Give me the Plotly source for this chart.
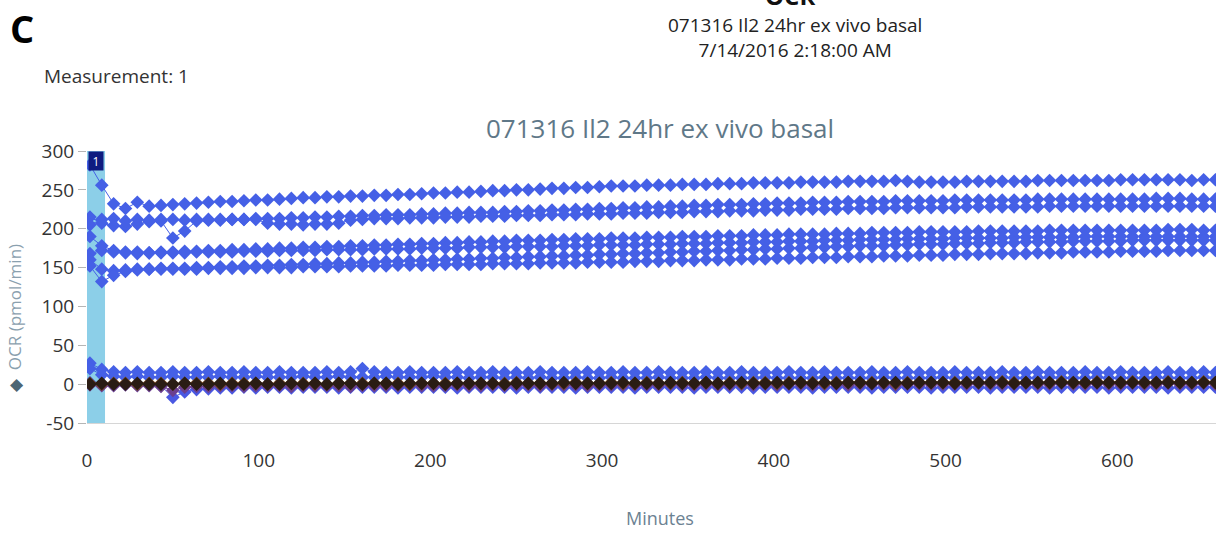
import plotly.graph_objects as go

# ---------------- data ----------------
minutes = [1.7, 8.6, 15.5, 22.4, 29.3, 36.2, 43.1, 50.0, 56.9, 63.8, 70.7, 77.6,
           84.5, 91.4, 98.3, 105.2, 112.1, 119.0, 125.9, 132.8, 139.7, 146.6, 153.5, 160.4,
           167.3, 174.2, 181.1, 188.0, 194.9, 201.8, 208.7, 215.6, 222.5, 229.4, 236.3, 243.2,
           250.1, 257.0, 263.9, 270.8, 277.7, 284.6, 291.5, 298.4, 305.3, 312.2, 319.1, 326.0,
           332.9, 339.8, 346.7, 353.6, 360.5, 367.4, 374.3, 381.2, 388.1, 395.0, 401.9, 408.8,
           415.7, 422.6, 429.5, 436.4, 443.3, 450.2, 457.1, 464.0, 470.9, 477.8, 484.7, 491.6,
           498.5, 505.4, 512.3, 519.2, 526.1, 533.0, 539.9, 546.8, 553.7, 560.6, 567.5, 574.4,
           581.3, 588.2, 595.1, 602.0, 608.9, 615.8, 622.7, 629.6, 636.5, 643.4, 650.3, 657.2]

well_1 = [282, 256, 232, 226, 234, 229, 230, 231, 232, 233, 234, 235,
          235, 236, 237, 237, 238, 239, 240, 240, 241, 241, 242, 242,
          243, 243, 244, 244, 245, 246, 246, 247, 247, 248, 249, 249,
          250, 250, 251, 252, 252, 253, 253, 254, 255, 255, 255, 256,
          256, 256, 257, 257, 257, 258, 258, 258, 259, 259, 259, 259,
          260, 260, 260, 260, 261, 261, 261, 261, 262, 261, 260, 260,
          260, 260, 261, 261, 261, 261, 261, 261, 262, 262, 262, 262,
          262, 262, 262, 263, 263, 263, 263, 263, 263, 262, 263, 263]

well_2 = [215, 207, 204, 203, 206, 209, 210, 188, 197, 210, 211, 211,
          212, 212, 213, 213, 213, 214, 214, 215, 215, 216, 216, 217,
          217, 218, 218, 218, 219, 219, 220, 220, 221, 221, 221, 222,
          222, 223, 223, 224, 224, 225, 225, 226, 226, 227, 227, 228,
          228, 229, 229, 230, 230, 231, 231, 231, 232, 232, 233, 233,
          233, 234, 234, 234, 235, 235, 235, 235, 236, 236, 236, 236,
          236, 237, 237, 237, 237, 237, 237, 237, 238, 238, 238, 238,
          238, 238, 238, 238, 238, 238, 239, 239, 239, 238, 238, 238]

well_3 = [205, 212, 213, 210, 212, 211, 212, 212, 211, 212, 212, 212,
          212, 212, 212, 207, 206, 206, 205, 206, 206, 207, 211, 212,
          213, 213, 213, 214, 214, 214, 215, 215, 215, 216, 216, 216,
          217, 217, 217, 218, 218, 218, 219, 219, 219, 220, 220, 220,
          221, 221, 221, 222, 222, 222, 223, 223, 223, 224, 224, 224,
          225, 225, 225, 225, 226, 226, 226, 226, 227, 227, 227, 227,
          227, 227, 228, 228, 228, 228, 228, 228, 228, 229, 229, 229,
          229, 229, 229, 229, 229, 229, 229, 229, 229, 229, 229, 229]

well_4 = [190, 178, 172, 170, 170, 169, 170, 170, 171, 171, 172, 172,
          173, 173, 174, 174, 175, 175, 176, 176, 177, 177, 178, 178,
          179, 179, 180, 180, 181, 181, 182, 182, 183, 183, 184, 184,
          185, 185, 185, 186, 186, 187, 187, 187, 188, 188, 188, 189,
          189, 189, 190, 190, 190, 191, 191, 191, 192, 192, 192, 193,
          193, 193, 193, 194, 194, 194, 195, 195, 195, 195, 196, 196,
          196, 196, 196, 197, 197, 197, 197, 197, 197, 198, 198, 198,
          198, 198, 198, 198, 198, 198, 198, 199, 199, 199, 198, 198]

well_5 = [168, 172, 170, 169, 168, 169, 169, 169, 169, 170, 170, 170,
          170, 171, 171, 171, 172, 172, 172, 172, 173, 173, 173, 173,
          174, 174, 174, 174, 175, 175, 175, 175, 176, 176, 176, 176,
          177, 177, 177, 177, 178, 178, 178, 179, 179, 179, 179, 180,
          180, 180, 181, 181, 181, 182, 182, 182, 183, 183, 183, 184,
          184, 184, 185, 185, 185, 186, 186, 186, 186, 187, 187, 187,
          187, 188, 188, 188, 188, 188, 189, 189, 189, 189, 189, 189,
          190, 190, 190, 190, 190, 190, 190, 190, 190, 190, 190, 190]

well_6 = [160, 148, 146, 147, 148, 148, 149, 149, 149, 150, 150, 151,
          151, 152, 152, 153, 153, 154, 154, 155, 155, 156, 156, 157,
          157, 158, 158, 159, 159, 160, 160, 161, 161, 162, 162, 163,
          163, 164, 164, 165, 165, 166, 166, 167, 167, 168, 168, 169,
          169, 170, 170, 171, 171, 172, 172, 173, 173, 174, 174, 175,
          175, 176, 176, 177, 177, 178, 178, 178, 179, 179, 180, 180,
          180, 181, 181, 181, 182, 182, 182, 183, 183, 183, 183, 184,
          184, 184, 184, 184, 185, 185, 185, 185, 185, 185, 185, 185]

well_7 = [152, 132, 140, 145, 147, 148, 148, 148, 148, 148, 149, 149,
          149, 149, 150, 150, 150, 150, 151, 151, 151, 151, 152, 152,
          152, 152, 153, 153, 153, 153, 154, 154, 154, 154, 155, 155,
          155, 155, 156, 156, 156, 156, 157, 157, 157, 157, 158, 158,
          158, 159, 159, 159, 160, 160, 160, 161, 161, 161, 162, 162,
          162, 163, 163, 163, 164, 164, 164, 165, 165, 165, 166, 166,
          166, 167, 167, 167, 168, 168, 168, 168, 169, 169, 169, 170,
          170, 170, 170, 171, 171, 171, 171, 172, 172, 172, 172, 172]

well_8 = [27, 19, 16, 15, 16, 15, 15, 16, 15, 15, 16, 15,
          15, 16, 15, 15, 16, 15, 15, 15, 16, 15, 16, 20,
          16, 15, 15, 16, 15, 15, 15, 16, 15, 15, 16, 15,
          15, 15, 16, 15, 15, 15, 16, 15, 15, 16, 15, 15,
          16, 15, 15, 15, 16, 15, 15, 16, 15, 15, 15, 16,
          15, 15, 16, 15, 15, 15, 16, 15, 15, 16, 15, 15,
          15, 16, 15, 15, 15, 16, 15, 15, 16, 15, 15, 15,
          16, 15, 15, 16, 15, 15, 15, 16, 15, 15, 16, 15]

well_9 = [20, 12, 10, 9, 10, 9, 9, 10, 9, 9, 9, 10,
          9, 9, 10, 9, 9, 9, 10, 9, 9, 10, 9, 9,
          9, 10, 9, 9, 9, 10, 9, 9, 8, 9, 9, 8,
          9, 8, 9, 8, 8, 9, 8, 8, 9, 8, 8, 8,
          9, 8, 8, 8, 9, 8, 8, 8, 8, 9, 8, 8,
          8, 8, 9, 8, 8, 8, 8, 9, 8, 8, 8, 8,
          9, 8, 8, 8, 8, 9, 8, 8, 8, 9, 8, 8,
          8, 9, 8, 8, 8, 8, 9, 8, 8, 8, 9, 8]

well_10 = [2, 0, -1, 0, -1, 0, -2, -17, -10, -7, -6, -5,
           -5, -4, -5, -4, -4, -5, -4, -4, -4, -5, -4, -4,
           -4, -4, -5, -4, -4, -4, -4, -5, -4, -4, -4, -4,
           -5, -4, -4, -4, -4, -5, -4, -4, -4, -4, -5, -4,
           -4, -4, -4, -5, -4, -4, -4, -4, -5, -4, -4, -4,
           -4, -5, -4, -4, -4, -4, -5, -4, -4, -4, -4, -5,
           -4, -4, -4, -4, -5, -4, -4, -4, -4, -5, -4, -4,
           -4, -4, -5, -4, -4, -4, -4, -5, -4, -4, -4, -4]

well_11 = [0, 1, 0, 0, 1, 0, 0, 0, 1, 0, 0, 1,
           0, 0, 1, 0, 0, 1, 0, 1, 0, 1, 1, 0,
           1, 1, 0, 1, 1, 1, 0, 1, 1, 1, 1, 0,
           1, 1, 1, 1, 2, 1, 1, 1, 1, 2, 1, 1,
           1, 2, 1, 1, 2, 1, 1, 2, 1, 1, 2, 1,
           2, 1, 2, 1, 2, 2, 1, 2, 2, 1, 2, 2,
           2, 1, 2, 2, 2, 2, 1, 2, 2, 2, 2, 2,
           2, 2, 2, 2, 2, 2, 2, 2, 2, 2, 2, 2]

well_12 = [1, 0, 1, 1, 0, 1, 1, 0, 1, 1, 1, 0,
           1, 1, 1, 0, 1, 1, 1, 1, 0, 1, 1, 1,
           1, 1, 1, 0, 1, 1, 1, 1, 1, 1, 1, 1,
           2, 1, 1, 1, 1, 2, 1, 1, 2, 1, 1, 2,
           1, 1, 2, 1, 2, 1, 2, 1, 2, 2, 1, 2,
           2, 2, 1, 2, 2, 2, 2, 2, 1, 2, 2, 2,
           2, 2, 2, 2, 2, 3, 2, 2, 2, 2, 3, 2,
           2, 3, 2, 2, 3, 2, 2, 3, 2, 2, 3, 2]

well_13 = [-1, -2, -2, -1, -2, -2, -3, -8, -4, -3, -3, -2,
           -2, -3, -2, -2, -2, -3, -2, -2, -2, -2, -3, -2,
           -2, -2, -2, -1, -2, -2, -2, -1, -2, -2, -1, -2,
           -1, -1, -2, -1, -1, -1, -2, -1, -1, -1, -1, -1,
           -1, 0, -1, -1, 0, -1, -1, 0, -1, 0, -1, 0,
           0, -1, 0, 0, -1, 0, 0, 0, -1, 0, 0, 0,
           0, 0, 0, 1, 0, 0, 0, 1, 0, 0, 1, 0,
           0, 1, 0, 0, 1, 0, 0, 1, 0, 0, 1, 0]

series = [
    ("A1", well_1, "#4560e6"), ("A2", well_2, "#4560e6"), ("A3", well_3, "#4560e6"),
    ("A4", well_4, "#4560e6"), ("A5", well_5, "#4560e6"), ("A6", well_6, "#4560e6"),
    ("A7", well_7, "#4560e6"), ("B1", well_8, "#4560e6"), ("B2", well_9, "#4560e6"),
    ("B3", well_10, "#4a58e2"), ("C1", well_13, "#6b3f8f"), ("C2", well_12, "#7a4a22"),
    ("C3", well_11, "#2a1c14"),
]

ytick_vals = [-50, 0, 50, 100, 150, 200, 250, 300]
ytick_text = ["-50", "0", "50", "100", "150", "200", "250", "300"]
xtick_vals = [0, 100, 200, 300, 400, 500, 600]
xtick_text = ["0", "100", "200", "300", "400", "500", "600"]

# measurement window (band) and label
meas_window = [0, 10.5]
meas_label = "1"

FONT = "Open Sans"

fig = go.Figure()
for name, vals, col in series:
    fig.add_trace(go.Scatter(
        x=minutes, y=vals, name=name, mode="lines+markers",
        line=dict(color=col, width=1),
        marker=dict(symbol="diamond", size=10.5, color=col, line=dict(width=0)),
        showlegend=False,
    ))

fig.add_shape(type="rect", xref="x", yref="y", x0=meas_window[0], x1=meas_window[1],
              y0=-50, y1=300, fillcolor="#8ccfe8", line=dict(width=0), layer="below")

fig.update_layout(
    width=1216, height=534,
    margin=dict(l=87, r=0, t=151, b=111),
    paper_bgcolor="white", plot_bgcolor="white",
    font=dict(family=FONT, color="#333333"),
    xaxis=dict(range=[0, 657.5], tickvals=xtick_vals, ticktext=xtick_text,
               showgrid=False, zeroline=False, showline=True, linecolor="#d6d6d6",
               linewidth=1, ticks="", ticklabelstandoff=20,
               tickfont=dict(size=19, color="#333333", family=FONT)),
    yaxis=dict(range=[-50, 300], tickvals=ytick_vals, ticktext=ytick_text,
               showgrid=False, zeroline=False, showline=False,
               ticks="outside", ticklen=8, tickcolor="#b5b5b5", tickwidth=1,
               tickfont=dict(size=19, color="#333333", family=FONT)),
)

ann = [
    dict(text="<b>C</b>", x=-0.0576, y=1.452, font=dict(size=38, color="black", family=FONT),
         xanchor="center", yanchor="middle"),
    dict(text="<b>OCR</b>", x=0.6227, y=1.572, font=dict(size=24, color="#111111", family=FONT),
         xanchor="center", yanchor="middle"),
    dict(text="071316 Il2 24hr ex vivo basal<br>7/14/2016 2:18:00 AM", x=0.6271, y=1.419,
         font=dict(size=19, color="#222222", family=FONT), xanchor="center", yanchor="middle"),
    dict(text="Measurement: 1", x=-0.0399, y=1.2757,
         font=dict(size=19, color="#333333", family=FONT), xanchor="left", yanchor="middle"),
    dict(text="071316 Il2 24hr ex vivo basal", x=0.5075, y=1.0846,
         font=dict(size=26, color="#5f7888", family=FONT), xanchor="center", yanchor="middle"),
    dict(text="Minutes", x=0.5075, y=-0.349,
         font=dict(size=18, color="#6c8292", family=FONT), xanchor="center", yanchor="middle"),
    dict(text="<span style='color:#4e6674'>◆</span>  OCR (pmol/min)", x=-0.0647, y=0.386,
         textangle=-90, font=dict(size=17, color="#8aa0ae", family=FONT),
         xanchor="center", yanchor="middle"),
]
for a in ann:
    fig.add_annotation(xref="paper", yref="paper", showarrow=False, **a)

fig.add_annotation(xref="x", yref="y", x=sum(meas_window) / 2, y=300, yanchor="top",
                   text=meas_label, showarrow=False, bgcolor="#0f1c80",
                   font=dict(size=12, color="white", family=FONT), width=14, height=18,
                   borderpad=0)

fig.write_html("out.html")
